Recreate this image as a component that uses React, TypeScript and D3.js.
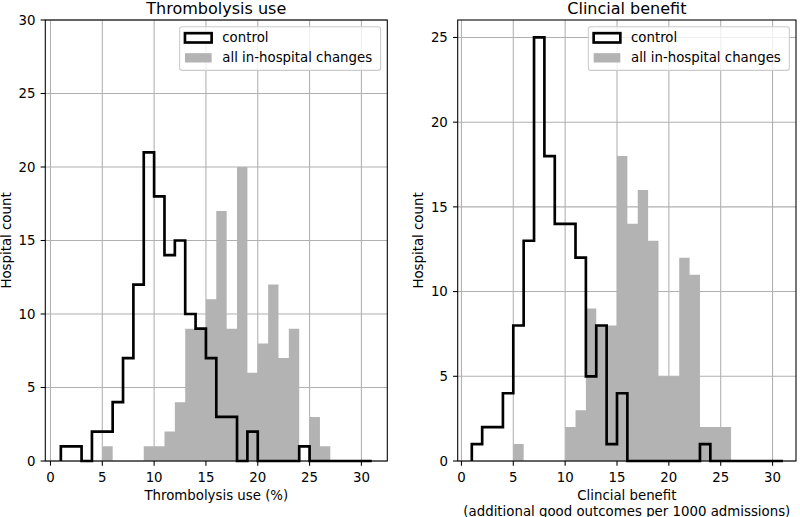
import React from 'react';
import * as d3 from 'd3';

// bin edges shared by both histograms (width 1, from 1 to 31)
const binEdges = [1, 2, 3, 4, 5, 6, 7, 8, 9, 10, 11, 12, 13, 14, 15, 16, 17, 18, 19, 20, 21, 22, 23, 24, 25, 26, 27, 28, 29, 30, 31];

// thrombolysis use (%) - hospital counts per bin
const thrombControl = [1, 1, 0, 2, 2, 4, 7, 12, 21, 18, 14, 15, 10, 9, 7, 3, 3, 0, 2, 0, 0, 0, 0, 1, 0, 0, 0, 0, 0, 0];
const thrombChanges = [0, 0, 0, 0, 1, 0, 0, 0, 1, 1, 2, 4, 9, 9, 11, 17, 9, 20, 6, 8, 12, 7, 9, 0, 3, 1, 0, 0, 0, 0];

// clinical benefit - hospital counts per bin
const benefitControl = [1, 2, 2, 4, 8, 13, 25, 18, 14, 14, 12, 5, 8, 1, 4, 0, 0, 0, 0, 0, 0, 0, 1, 0, 0, 0, 0, 0, 0, 0];
const benefitChanges = [0, 0, 0, 0, 1, 0, 0, 0, 0, 2, 3, 9, 8, 8, 18, 14, 16, 13, 5, 5, 12, 11, 2, 2, 2, 0, 0, 0, 0, 0];

const xTicks = [0, 5, 10, 15, 20, 25, 30];
const yTicksLeft = [0, 5, 10, 15, 20, 25, 30];
const yTicksRight = [0, 5, 10, 15, 20, 25];

const seriesLabels = ['control', 'all in-hospital changes'];

const FONT = '"DejaVu Sans", sans-serif';
const FS = 13.33;
const GRAY = '#b3b3b3';

type PanelProps = {
  left: number;
  right: number;
  top: number;
  bottom: number;
  xDomain: [number, number];
  yMax: number;
  yTicks: number[];
  control: number[];
  changes: number[];
  title: string;
  xLabel: string[];
};

function Panel(p: PanelProps) {
  const x = d3.scaleLinear().domain(p.xDomain).range([p.left, p.right]);
  const y = d3.scaleLinear().domain([0, p.yMax]).range([p.bottom, p.top]);

  // outline of a step histogram
  const stepPts: [number, number][] = [[binEdges[0], 0]];
  p.control.forEach((c, i) => {
    stepPts.push([binEdges[i], c]);
    stepPts.push([binEdges[i + 1], c]);
  });
  stepPts.push([binEdges[binEdges.length - 1], 0]);
  const line = d3.line<[number, number]>().x(d => x(d[0])).y(d => y(d[1]));

  const fillPts: [number, number][] = [];
  p.changes.forEach((c, i) => {
    fillPts.push([binEdges[i], c]);
    fillPts.push([binEdges[i + 1], c]);
  });
  const area = d3.area<[number, number]>().x(d => x(d[0])).y0(y(0)).y1(d => y(d[1]));

  const tick = 4.67;
  const legW = 201;
  const legH = 43.7;
  const legR = p.right - 6.67;
  const legL = legR - legW;
  const legT = p.top + 6.67;
  const hx = legL + 5.33;

  return (
    <g>
      {/* grid */}
      {xTicks.map(t => (
        <line key={'gx' + t} x1={x(t)} x2={x(t)} y1={p.top} y2={p.bottom} stroke="#b0b0b0" strokeWidth={1.07} />
      ))}
      {p.yTicks.map(t => (
        <line key={'gy' + t} x1={p.left} x2={p.right} y1={y(t)} y2={y(t)} stroke="#b0b0b0" strokeWidth={1.07} />
      ))}

      <path d={area(fillPts) || ''} fill={GRAY} />
      <path d={line(stepPts) || ''} fill="none" stroke="#000" strokeWidth={2.67} strokeLinejoin="miter" />

      {/* spines */}
      <rect x={p.left} y={p.top} width={p.right - p.left} height={p.bottom - p.top} fill="none" stroke="#000" strokeWidth={1.07} />

      {/* ticks */}
      {xTicks.map(t => (
        <g key={'tx' + t}>
          <line x1={x(t)} x2={x(t)} y1={p.bottom} y2={p.bottom + tick} stroke="#000" strokeWidth={1.07} />
          <text x={x(t)} y={p.bottom + 21} textAnchor="middle" fontSize={FS} fontFamily={FONT}>{t}</text>
        </g>
      ))}
      {p.yTicks.map(t => (
        <g key={'ty' + t}>
          <line x1={p.left - tick} x2={p.left} y1={y(t)} y2={y(t)} stroke="#000" strokeWidth={1.07} />
          <text x={p.left - 2 * tick - 0.5} y={y(t)} dy="0.36em" textAnchor="end" fontSize={FS} fontFamily={FONT}>{t}</text>
        </g>
      ))}

      {/* labels */}
      <text x={(p.left + p.right) / 2} y={p.top - 6.5} textAnchor="middle" fontSize={16} fontFamily={FONT}>{p.title}</text>
      {p.xLabel.map((s, i) => (
        <text key={s} x={(p.left + p.right) / 2} y={500 + i * 15.5} textAnchor="middle" fontSize={FS} fontFamily={FONT}>{s}</text>
      ))}
      <text transform={`translate(${p.left - 34.5},${(p.top + p.bottom) / 2}) rotate(-90)`} textAnchor="middle" fontSize={FS} fontFamily={FONT}>Hospital count</text>

      {/* legend */}
      <rect x={legL} y={legT} width={legW} height={legH} rx={2.7} fill="#fff" fillOpacity={0.8} stroke="#cccccc" strokeWidth={1.07} />
      <rect x={hx} y={legT + 6.5} width={26.67} height={9.33} fill="#fff" stroke="#000" strokeWidth={2.67} />
      <rect x={hx} y={legT + 26.5} width={26.67} height={9.33} fill={GRAY} />
      <text x={hx + 26.67 + 10.67} y={legT + 15.8} fontSize={FS} fontFamily={FONT}>{seriesLabels[0]}</text>
      <text x={hx + 26.67 + 10.67} y={legT + 35.8} fontSize={FS} fontFamily={FONT}>{seriesLabels[1]}</text>
    </g>
  );
}

export default function App() {
  return (
    <svg width={800} height={517} style={{ display: 'block', position: 'absolute', left: 0, top: 0, background: '#fff' }}>
      <Panel
        left={45.3} right={387.3} top={20} bottom={461}
        xDomain={[-0.5, 32.5]} yMax={30} yTicks={yTicksLeft}
        control={thrombControl} changes={thrombChanges}
        title="Thrombolysis use" xLabel={['Thrombolysis use (%)']}
      />
      <Panel
        left={457.7} right={796} top={20} bottom={461}
        xDomain={[-0.36, 32.26]} yMax={26.03} yTicks={yTicksRight}
        control={benefitControl} changes={benefitChanges}
        title="Clincial benefit" xLabel={['Clincial benefit', '(additional good outcomes per 1000 admissions)']}
      />
    </svg>
  );
}
